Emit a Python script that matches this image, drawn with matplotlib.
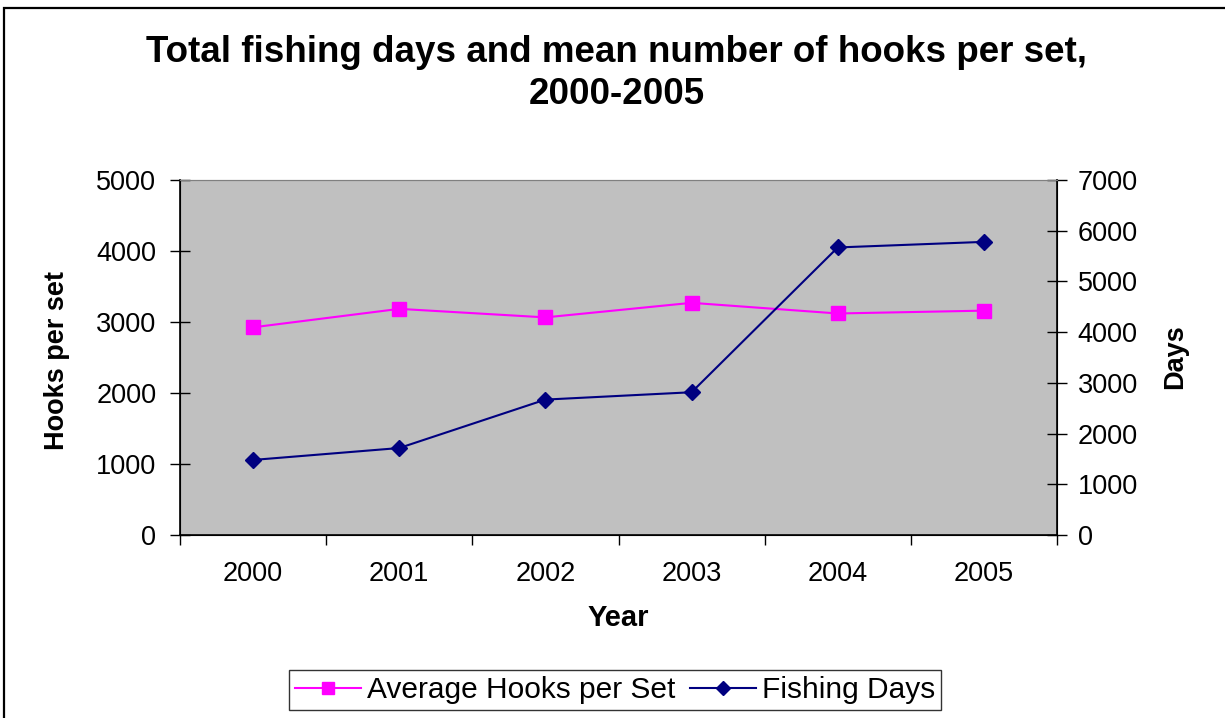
import matplotlib
matplotlib.use("Agg")
import matplotlib.pyplot as plt
from matplotlib.patches import Rectangle
from matplotlib.lines import Line2D

plt.rcParams["font.family"] = ["Liberation Sans", "DejaVu Sans"]

# data
years = ["2000", "2001", "2002", "2003", "2004", "2005"]
hooks_per_set = [2925, 3185, 3065, 3270, 3120, 3160]
fishing_days = [1480, 1715, 2670, 2815, 5670, 5780]

hooks_ticks = [0, 1000, 2000, 3000, 4000, 5000]
days_ticks = [0, 1000, 2000, 3000, 4000, 5000, 6000, 7000]

W, H = 1225, 718
fig = plt.figure(figsize=(W / 100, H / 100), dpi=100)

# outer chart border (cut off at right and bottom like the reference)
fig.patches.append(Rectangle((4 / W, -0.2), 1.2, 1.2 - 8 / H,
                             transform=fig.transFigure, fill=False,
                             edgecolor="black", linewidth=1.6, zorder=0))

ax = fig.add_axes([180 / W, 1 - 535 / H, (1057 - 180) / W, (535 - 180) / H])
ax.set_facecolor("#C0C0C0")
x = list(range(len(years)))

ax.plot(x, hooks_per_set, color="#FF00FF", marker="s", markersize=9.5,
        linewidth=1.5, zorder=3)
ax.set_xlim(-0.5, len(years) - 0.5)
ax.set_ylim(0, 5000)
ax.set_yticks(hooks_ticks)
ax.tick_params(axis="y", direction="inout", length=14, width=1,
               labelsize=19.5, pad=10)

ax.set_xticks(x)
ax.set_xticklabels(years, fontsize=19.5)
ax.tick_params(axis="x", length=0, pad=19)
ax.set_xticks([i - 0.5 for i in range(len(years) + 1)], minor=True)
ax.tick_params(axis="x", which="minor", direction="out", length=7, width=1)

for s in ["left", "bottom"]:
    ax.spines[s].set_color("black")
    ax.spines[s].set_linewidth(1.2)
ax.spines["top"].set_color("#808080")
ax.spines["right"].set_color("black")

ax2 = ax.twinx()
ax2.plot(x, fishing_days, color="#000080", marker="D", markersize=8.5,
         linewidth=1.5, zorder=3)
ax2.set_ylim(0, 7000)
ax2.set_yticks(days_ticks)
ax2.tick_params(axis="y", direction="inout", length=14, width=1,
                labelsize=19.5, pad=8)
ax2.spines["right"].set_linewidth(1.2)
ax2.spines["top"].set_color("#808080")

fig.text(617 / W, 1 - 52 / H, "Total fishing days and mean number of hooks per set,",
         ha="center", va="center", fontsize=26.5, fontweight="bold")
fig.text(617 / W, 1 - 95 / H, "2000-2005",
         ha="center", va="center", fontsize=26.5, fontweight="bold")

fig.text(57 / W, 1 - 360 / H, "Hooks per set", rotation=90, ha="center",
         va="center", fontsize=19.5, fontweight="bold")
fig.text(1175 / W, 1 - 357 / H, "Days", rotation=90, ha="center",
         va="center", fontsize=19.5, fontweight="bold")
fig.text(618 / W, 1 - 618 / H, "Year", ha="center", va="center",
         fontsize=21, fontweight="bold")

handles = [
    Line2D([], [], color="#FF00FF", marker="s", markersize=8, linewidth=1.5),
    Line2D([], [], color="#000080", marker="D", markersize=7, linewidth=1.5),
]
leg = fig.legend(handles, ["Average Hooks per Set", "Fishing Days"],
                 loc="center", bbox_to_anchor=(615 / W, 1 - 690 / H),
                 ncol=2, fontsize=21.5, frameon=True, fancybox=False,
                 handlelength=2.2, handletextpad=0.2, columnspacing=0.5,
                 borderpad=0.2, borderaxespad=0)
leg.get_frame().set_edgecolor("black")
leg.get_frame().set_linewidth(1)

fig.savefig("out.png", dpi=100)
